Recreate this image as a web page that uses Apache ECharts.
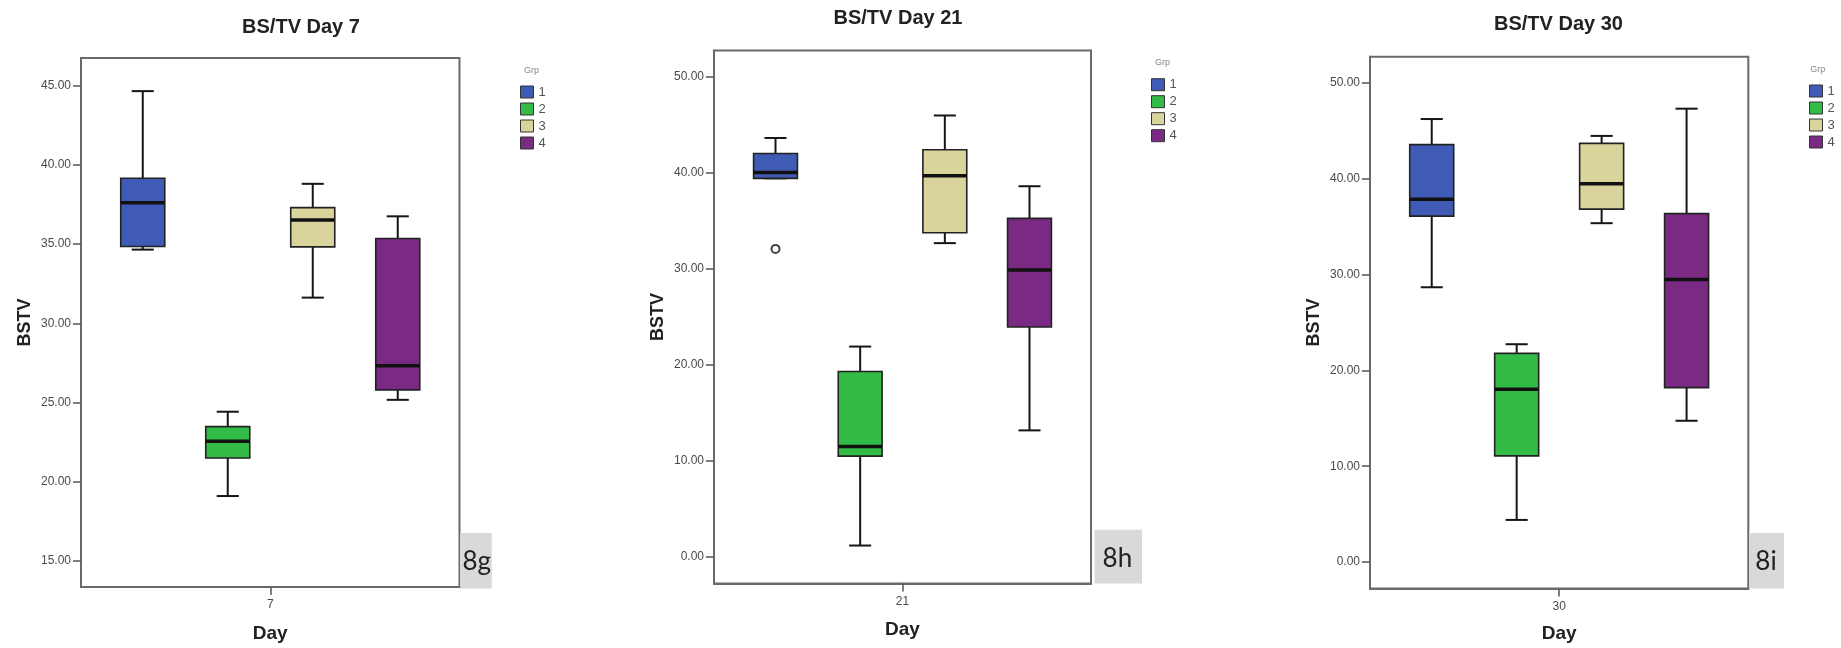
<!DOCTYPE html>
<html>
<head>
<meta charset="utf-8">
<script src="https://cdn.jsdelivr.net/npm/echarts@6/dist/echarts.min.js"></script>
<style>
  html, body { margin: 0; padding: 0; background: #ffffff; }
  #chart { width: 1841px; height: 648px; }
</style>
</head>
<body>
<div id="chart"></div>
<script>
// Study days and treatment groups
const days = ['7', '21', '30'];
const groups = ['1', '2', '3', '4'];

// Five-number summaries per group: [lower whisker, Q1, median, Q3, upper whisker]
const day7Stats = [
  [34.65, 34.85, 37.60, 39.15, 44.65],
  [19.10, 21.50, 22.55, 23.48, 24.42],
  [31.62, 34.82, 36.52, 37.30, 38.80],
  [25.17, 25.80, 27.32, 35.35, 36.75]
];
const day21Stats = [
  [39.40, 39.40, 40.00, 41.98, 43.60],
  [1.20, 10.50, 11.50, 19.30, 21.90],
  [32.66, 33.74, 39.66, 42.37, 45.94],
  [13.18, 23.93, 29.87, 35.24, 38.58]
];
const day30Stats = [
  [28.66, 36.08, 37.84, 43.53, 46.20],
  [4.40, 11.08, 18.02, 21.77, 22.72],
  [35.34, 36.81, 39.44, 43.66, 44.44],
  [14.74, 18.19, 29.48, 36.34, 47.28]
];

// Outliers: [group, value]
const day7Outliers = [];
const day21Outliers = [[1, 32.06]];
const day30Outliers = [];

// Y-axis tick values
const day7Ticks = [15, 20, 25, 30, 35, 40, 45];
const day21Ticks = [0, 10, 20, 30, 40, 50];
const day30Ticks = [0, 10, 20, 30, 40, 50];

// Panel tags
const panelTags = ['8g', '8h', '8i'];

const groupColors = ['#3f5bb5', '#32bb47', '#d8d49c', '#7b2a84'];
const SANS = "'Liberation Sans', Arial, sans-serif";

const panels = [
  { day: days[0], stats: day7Stats, outliers: day7Outliers, ticks: day7Ticks, yMin: 13.36, yMax: 46.74,
    grid: { left: 81, top: 58, width: 378.5, height: 530.5 },
    title: [301, 27], grp: [531.6, 71], legend: [520, 85.5],
    tag: panelTags[0], tagBox: [460, 533, 31.7, 55.5], tagText: [476.7, 561.5], nameGapX: 37 },
  { day: days[1], stats: day21Stats, outliers: day21Outliers, ticks: day21Ticks, yMin: -2.75, yMax: 52.7,
    grid: { left: 714, top: 50.5, width: 377, height: 533 },
    title: [898, 18.6], grp: [1162.5, 62.8], legend: [1151, 78.2],
    tag: panelTags[1], tagBox: [1094.5, 529.8, 47.5, 53.7], tagText: [1117.4, 558.5], nameGapX: 37 },
  { day: days[2], stats: day30Stats, outliers: day30Outliers, ticks: day30Ticks, yMin: -2.75, yMax: 52.7,
    grid: { left: 1370, top: 56.7, width: 378.3, height: 532.3 },
    title: [1558.5, 24.8], grp: [1817.7, 70], legend: [1809, 84.5],
    tag: panelTags[2], tagBox: [1749, 533, 35, 55.5], tagText: [1766, 561.5], nameGapX: 35.5 }
];

// Box-and-whisker glyph drawn on the axes of its panel
function renderBox(params, api) {
  const g = api.value(0);
  const unit = api.size([1, 0])[0];
  const half = unit * 0.259;
  const capHalf = unit * 0.13;
  const pLo = api.coord([g, api.value(1)]);
  const pQ1 = api.coord([g, api.value(2)]);
  const pMed = api.coord([g, api.value(3)]);
  const pQ3 = api.coord([g, api.value(4)]);
  const pHi = api.coord([g, api.value(5)]);
  const x = pMed[0];
  const ws = { stroke: '#151515', lineWidth: 2 };
  return {
    type: 'group',
    children: [
      { type: 'line', shape: { x1: x, y1: pLo[1], x2: x, y2: pQ1[1] }, style: ws },
      { type: 'line', shape: { x1: x, y1: pQ3[1], x2: x, y2: pHi[1] }, style: ws },
      { type: 'line', shape: { x1: x - capHalf, y1: pLo[1], x2: x + capHalf, y2: pLo[1] }, style: ws },
      { type: 'line', shape: { x1: x - capHalf, y1: pHi[1], x2: x + capHalf, y2: pHi[1] }, style: ws },
      { type: 'rect', shape: { x: x - half, y: pQ3[1], width: 2 * half, height: pQ1[1] - pQ3[1] },
        style: { fill: api.visual('color'), stroke: '#222', lineWidth: 1.6 } },
      { type: 'line', shape: { x1: x - half, y1: pMed[1], x2: x + half, y2: pMed[1] },
        style: { stroke: '#111', lineWidth: 3.5 } }
    ]
  };
}

const grids = [], xAxes = [], yAxes = [], series = [], legends = [], graphics = [];

panels.forEach((p, pi) => {
  grids.push(Object.assign({ show: true, borderColor: '#6a6a6a', borderWidth: 2, backgroundColor: '#fff' }, p.grid));

  xAxes.push({
    type: 'value', gridIndex: pi, min: 0.2735, max: 4.7265,
    name: 'Day', nameLocation: 'middle', nameGap: p.nameGapX,
    nameTextStyle: { fontFamily: SANS, fontWeight: 'bold', fontSize: 19, color: '#222' },
    axisLine: { show: true, onZero: false, lineStyle: { color: '#6a6a6a', width: 2 } },
    axisTick: { show: true, length: 8, customValues: [2.5], lineStyle: { color: '#555', width: 1.5 } },
    axisLabel: { customValues: [2.5], formatter: () => p.day, margin: 12,
      fontFamily: SANS, fontSize: 12, color: '#4a4a4a' },
    splitLine: { show: false }
  });

  yAxes.push({
    type: 'value', gridIndex: pi, min: p.yMin, max: p.yMax,
    name: 'BSTV', nameLocation: 'middle', nameGap: 47, nameRotate: 90,
    nameTextStyle: { fontFamily: SANS, fontWeight: 'bold', fontSize: 18, color: '#222' },
    axisLine: { show: true, onZero: false, lineStyle: { color: '#6a6a6a', width: 2 } },
    axisTick: { show: true, length: 8, customValues: p.ticks, lineStyle: { color: '#555', width: 1.5 } },
    axisLabel: { customValues: p.ticks, formatter: v => Number(v).toFixed(2), margin: 10,
      fontFamily: SANS, fontSize: 12, color: '#4a4a4a' },
    splitLine: { show: false }
  });

  p.stats.forEach((s, gi) => {
    series.push({
      type: 'custom', name: groups[gi], xAxisIndex: pi, yAxisIndex: pi,
      renderItem: renderBox,
      itemStyle: { color: groupColors[gi] },
      encode: { x: 0, y: [1, 2, 3, 4, 5] },
      data: [[gi + 1].concat(s)],
      silent: true, animation: false
    });
  });

  if (p.outliers.length) {
    series.push({
      type: 'scatter', name: 'Outlier', xAxisIndex: pi, yAxisIndex: pi,
      data: p.outliers, symbol: 'circle', symbolSize: 8,
      itemStyle: { color: '#ffffff', borderColor: '#444', borderWidth: 2, opacity: 1 },
      silent: true, animation: false
    });
  }

  legends.push({
    data: groups, orient: 'vertical', left: p.legend[0], top: p.legend[1],
    icon: 'rect', itemWidth: 13, itemHeight: 12, itemGap: 4, padding: 0,
    selectedMode: false,
    itemStyle: { borderColor: '#333', borderWidth: 1 },
    textStyle: { fontFamily: SANS, fontSize: 13, color: '#555' }
  });

  graphics.push(
    { type: 'text', x: p.title[0], y: p.title[1],
      style: { text: 'BS/TV Day ' + p.day, fontFamily: SANS, fontWeight: 'bold', fontSize: 20,
        fill: '#222', align: 'center', verticalAlign: 'middle' } },
    { type: 'text', x: p.grp[0], y: p.grp[1],
      style: { text: 'Grp', fontFamily: SANS, fontSize: 9, fill: '#888', align: 'center', verticalAlign: 'middle' } },
    { type: 'rect', shape: { x: p.tagBox[0], y: p.tagBox[1], width: p.tagBox[2], height: p.tagBox[3] },
      style: { fill: '#d9d9d9' } },
    { type: 'text', x: p.tagText[0], y: p.tagText[1],
      style: { text: p.tag, fontFamily: "Lato, 'Open Sans', sans-serif", fontSize: 26, fill: '#222',
        align: 'center', verticalAlign: 'middle' } }
  );
});

const chart = echarts.init(document.getElementById('chart'), null, { renderer: 'canvas' });
chart.setOption({
  backgroundColor: '#ffffff',
  animation: false,
  grid: grids,
  xAxis: xAxes,
  yAxis: yAxes,
  legend: legends,
  series: series,
  graphic: graphics
});
</script>
</body>
</html>
